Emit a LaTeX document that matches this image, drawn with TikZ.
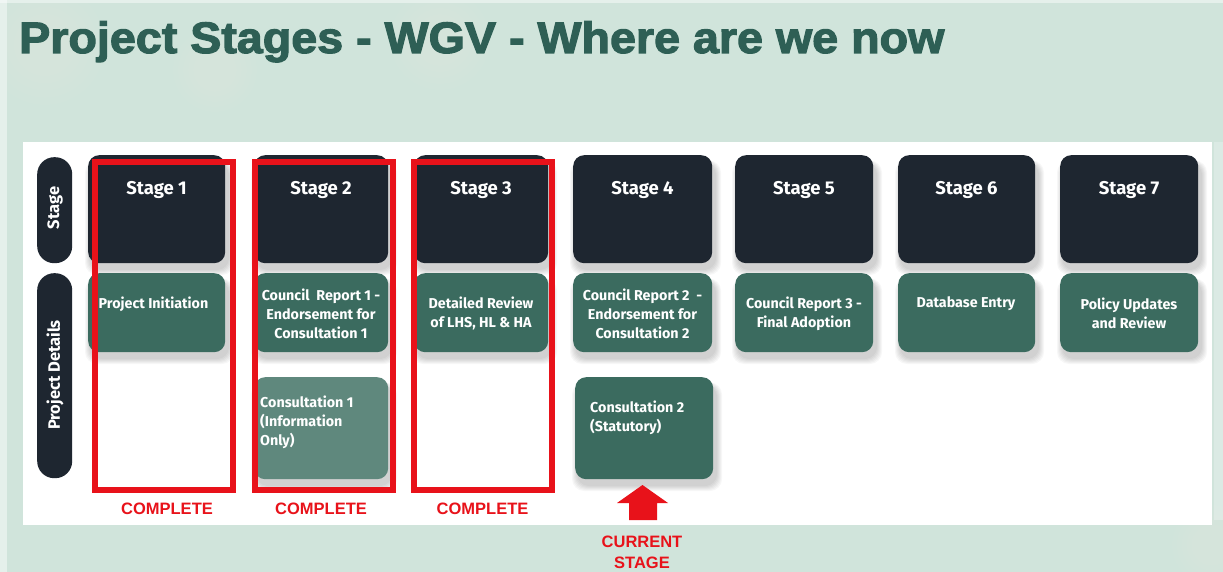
\documentclass[tikz,border=0pt]{standalone}
\usepackage{fontspec}
\setmainfont{Fira Sans}
\newfontfamily\titlefont{Liberation Sans}[BoldFeatures={FakeBold=2.5}]
\newfontfamily\labelfont{Liberation Sans}

\definecolor{bgmint}{HTML}{D0E4DB}
\definecolor{titlegreen}{HTML}{2E5F55}
\definecolor{darkbox}{HTML}{1E2630}
\definecolor{detgreen}{HTML}{3B6B5F}
\definecolor{softgreen}{HTML}{5F887D}
\definecolor{markred}{HTML}{E8121A}

% soft shadow under a box: left, top, right, bottom
\newcommand\softshade[4]{%
  \foreach \k in {0,...,5}{%
    \fill[black, opacity=0.03, rounded corners=12pt]
      ({#1+2-\k},{#2+8-0.5*\k}) rectangle ({#3+4+\k},{#4+7+\k});
  }}
% faint light blob in the backdrop: x, y, radius
\newcommand\haze[3]{%
  \foreach \k in {0,...,5}{%
    \fill[white, opacity=0.025] (#1,#2) circle ({#3*(1-0.12*\k)});
  }}

\begin{document}
\begin{tikzpicture}[x=1pt, y=-1pt,
  stagebox/.style={fill=darkbox, rounded corners=11pt, anchor=north west,
    inner sep=0pt, minimum height=108pt},
  detailbox/.style={fill=detgreen, rounded corners=11pt, anchor=north west,
    inner sep=0pt},
  pillbox/.style={fill=darkbox, rounded corners=17pt, anchor=north west,
    inner sep=0pt, minimum width=35pt},
  stagetxt/.style={text=white, anchor=base, inner sep=0pt,
    font=\bfseries\fontsize{18.5}{22}\selectfont},
  dettxt/.style={text=white, align=center, inner sep=0pt,
    font=\bfseries\fontsize{14.3}{19}\selectfont},
  pilltxt/.style={text=white, rotate=90, inner sep=0pt,
    font=\bfseries\fontsize{16.5}{20}\selectfont},
  donebox/.style={draw=markred, line width=6pt, anchor=north west,
    inner sep=0pt, minimum width=138pt, minimum height=328pt},
  redlabel/.style={text=markred, align=center, inner sep=0pt,
    font=\labelfont\bfseries\fontsize{16.5}{21}\selectfont}]

\useasboundingbox (0,0) rectangle (1223,572);

% backdrop
\fill[bgmint] (0,0) rectangle (1223,572);
\fill[white, opacity=0.45] (0,0) rectangle (7,572);
\fill[white, opacity=0.45] (0,0) rectangle (1223,3);
\haze{45}{45}{60}
\haze{215}{70}{42}
\haze{440}{40}{50}
\haze{1212}{545}{40}
\fill[white, opacity=0.25] (1214,142) rectangle (1223,520);

% title
\node[anchor=base west, inner sep=0pt, text=titlegreen,
  font=\titlefont\bfseries\fontsize{44}{48}\selectfont] (title) at (19,53)
  {\scalebox{1.06}[1]{Project Stages - WGV - Where are we now}};

% white panel
\fill[white] (23,142) rectangle (1212,525);

% shadows
\foreach \l/\r in {88/225, 254/388, 414/548, 573/712, 735/873, 898/1035, 1060/1198}{
  \softshade{\l}{155}{\r}{263}
  \softshade{\l}{273}{\r}{352}
}
\softshade{254}{377}{388}{479}
\softshade{575}{377}{713}{479}

% row headers
\node[pillbox, minimum height=106pt] (pstage) at (37,157) {};
\node[pillbox, minimum height=205pt] (pdetails) at (37,273) {};
\node[pilltxt] (pstaget) at (55,208) {Stage};
\node[pilltxt] (pdetailst) at (55,375) {Project Details};

% stage headers
\node[stagebox, minimum width=137pt] (s1) at (88,155) {};
\node[stagebox, minimum width=134pt] (s2) at (254,155) {};
\node[stagebox, minimum width=134pt] (s3) at (414,155) {};
\node[stagebox, minimum width=139pt] (s4) at (573,155) {};
\node[stagebox, minimum width=138pt] (s5) at (735,155) {};
\node[stagebox, minimum width=137pt] (s6) at (898,155) {};
\node[stagebox, minimum width=138pt] (s7) at (1060,155) {};
\node[stagetxt] (s1t) at (156.5,195) {Stage 1};
\node[stagetxt] (s2t) at (321,195) {Stage 2};
\node[stagetxt] (s3t) at (481,195) {Stage 3};
\node[stagetxt] (s4t) at (642.5,195) {Stage 4};
\node[stagetxt] (s5t) at (804,195) {Stage 5};
\node[stagetxt] (s6t) at (966.5,195) {Stage 6};
\node[stagetxt] (s7t) at (1129,195) {Stage 7};

% project details
\node[detailbox, minimum width=137pt, minimum height=79pt] (d1) at (88,273) {};
\node[detailbox, minimum width=134pt, minimum height=79pt] (d2) at (254,273) {};
\node[detailbox, minimum width=134pt, minimum height=79pt] (d3) at (414,273) {};
\node[detailbox, minimum width=139pt, minimum height=79pt] (d4) at (573,273) {};
\node[detailbox, minimum width=138pt, minimum height=79pt] (d5) at (735,273) {};
\node[detailbox, minimum width=137pt, minimum height=79pt] (d6) at (898,273) {};
\node[detailbox, minimum width=138pt, minimum height=79pt] (d7) at (1060,273) {};
\node[detailbox, fill=softgreen, minimum width=134pt, minimum height=102pt] (c1) at (254,377) {};
\node[detailbox, minimum width=138pt, minimum height=102pt] (c2) at (575,377) {};

\node[dettxt] (d1t) at (153.5,304) {Project Initiation};
\node[dettxt] (d2t) at (321,314) {Council~ Report 1 -\\Endorsement for\\Consultation 1};
\node[dettxt] (d3t) at (481,313.5) {Detailed Review\\of LHS, HL \& HA};
\node[dettxt] (d4t) at (642.5,314) {Council Report 2~ -\\Endorsement for\\Consultation 2};
\node[dettxt] (d5t) at (804,313.5) {Council Report 3 -\\Final Adoption};
\node[dettxt] (d6t) at (966,304) {Database Entry};
\node[dettxt] (d7t) at (1129,313.5) {Policy Updates\\and Review};
\node[dettxt, align=left, anchor=west] (c1t) at (260,422.5) {Consultation 1\\(Information\\Only)};
\node[dettxt, align=left, anchor=west] (c2t) at (590,418) {Consultation 2\\(Statutory)};

% completed stages
\node[donebox] (done1) at (92,159) {};
\node[donebox] (done2) at (252,159) {};
\node[donebox] (done3) at (411,159) {};
\node[redlabel] (lab1) at (167,508.5) {COMPLETE};
\node[redlabel] (lab2) at (321,508.5) {COMPLETE};
\node[redlabel] (lab3) at (482.5,508.5) {COMPLETE};

% current stage marker
\fill[markred] (629,520) -- (657,520) -- (657,503) -- (668,503) -- (642.5,485)
  -- (617,503) -- (629,503) -- cycle;
\node[redlabel] (current) at (642,552.5) {CURRENT\\STAGE};

\end{tikzpicture}
\end{document}
